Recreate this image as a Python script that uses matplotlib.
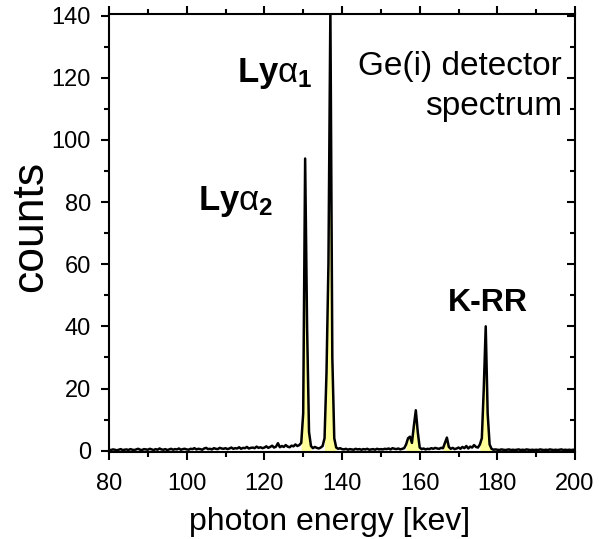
"""
Ge(i) detector spectrum: counts vs photon energy, peaks shaded yellow.
"""
import matplotlib
matplotlib.use("Agg")
import matplotlib.pyplot as plt
import numpy as np
from matplotlib.ticker import MultipleLocator

# --- Data (0.5 keV bins) ---
E_START, E_STEP = 80.0, 0.5
counts = [
    # 80-90
    0.3, 0.2, 0.4, 0.3, 0.1, 0.3, 0.5, 0.2, 0.3, 0.4, 0.2, 0.5, 0.3, 0.2, 0.4, 0.6, 0.3, 0.2, 0.5, 0.4,
    # 90-100
    0.3, 0.6, 0.4, 0.2, 0.5, 0.3, 0.7, 0.4, 0.3, 0.5, 0.2, 0.4, 0.6, 0.3, 0.5, 0.4, 0.7, 0.3, 0.5, 0.6,
    # 100-110
    0.4, 0.3, 0.6, 0.5, 0.8, 0.4, 0.6, 0.5, 0.3, 0.7, 0.9, 0.5, 0.6, 0.4, 0.8, 0.6, 0.5, 0.9, 0.7, 0.6,
    # 110-120
    0.8, 0.5, 0.7, 1.0, 0.6, 0.8, 0.7, 1.1, 0.6, 0.9, 0.8, 1.2, 0.7, 0.9, 1.0, 0.8, 1.3, 0.9, 1.1, 0.8,
    # 120-130
    1.0, 1.4, 0.9, 1.2, 1.6, 1.0, 1.3, 2.4, 1.1, 1.5, 1.2, 1.8, 1.3, 1.1, 1.6, 1.4, 2.0, 1.5, 1.8, 2.5,
    # 130-140  (Ly-alpha2, Ly-alpha1)
    12.0, 94.0, 40.0, 6.0, 1.5, 0.8, 1.2, 0.9, 0.7, 1.0, 1.5, 4.0, 25.0, 60.0, 142.0, 30.0, 4.0, 1.0, 0.6, 0.8,
    # 140-150
    0.5, 0.4, 0.6, 0.3, 0.5, 0.4, 0.3, 0.6, 0.4, 0.5, 0.3, 0.5, 0.4, 0.6, 0.3, 0.4, 0.5, 0.3, 0.6, 0.4,
    # 150-160
    0.5, 0.4, 0.6, 0.5, 0.7, 0.4, 0.8, 0.6, 0.5, 0.7, 0.4, 0.6, 0.8, 2.0, 4.0, 4.5, 2.5, 8.0, 13.0, 6.0,
    # 160-170
    1.0, 0.5, 0.7, 0.4, 0.6, 0.5, 0.8, 0.6, 0.9, 0.7, 0.6, 0.9, 0.8, 2.5, 4.2, 1.2, 0.6, 0.9, 0.5, 0.7,
    # 170-180  (K-RR)
    1.0, 0.6, 1.2, 0.8, 1.5, 0.7, 1.3, 1.0, 1.8, 1.2, 1.0, 2.0, 4.0, 20.0, 40.0, 12.0, 2.0, 0.6, 0.3, 0.4,
    # 180-190
    0.3, 0.2, 0.4, 0.3, 0.2, 0.3, 0.4, 0.2, 0.3, 0.2, 0.3, 0.4, 0.2, 0.3, 0.2, 0.4, 0.3, 0.2, 0.3, 0.2,
    # 190-200
    0.3, 0.2, 0.4, 0.3, 0.2, 0.3, 0.2, 0.4, 0.3, 0.2, 0.3, 0.2, 0.3, 0.4, 0.2, 0.3, 0.2, 0.3, 0.2, 0.3,
    0.3,
]
energy = E_START + E_STEP * np.arange(len(counts))
counts = np.array(counts)

# energy windows of the shaded peaks
peak_windows = [(129.5, 132.0), (135.5, 138.5), (156.5, 160.0), (166.0, 168.0), (175.5, 178.5)]

C_FILL = "#FFFF99"

plt.rcParams.update({
    "font.family": ["Liberation Sans", "DejaVu Sans"],
    "mathtext.fontset": "custom",
    "mathtext.rm": "Liberation Sans",
    "mathtext.it": "Liberation Sans:italic",
    "mathtext.bf": "Liberation Sans:bold",
})

fig = plt.figure(figsize=(5.99, 5.39), dpi=100)
ax = fig.add_axes([0.182, 0.161, 0.778, 0.813])

for lo, hi in peak_windows:
    m = (energy >= lo) & (energy <= hi)
    ax.fill_between(energy[m], 0, counts[m], color=C_FILL, lw=0, zorder=1)
ax.plot(energy, counts, color="black", lw=1.8, zorder=2)

ax.set_xlim(80, 200)
ax.set_ylim(-0.5, 140.5)
ax.xaxis.set_major_locator(MultipleLocator(20))
ax.xaxis.set_minor_locator(MultipleLocator(10))
ax.yaxis.set_major_locator(MultipleLocator(20))
ax.yaxis.set_minor_locator(MultipleLocator(10))

for s in ax.spines.values():
    s.set_linewidth(1.5)
ax.tick_params(which="both", direction="out", width=1.5, labelsize=17)
ax.tick_params(which="major", length=6)
ax.tick_params(which="minor", length=3.5)
ax.tick_params(axis="x", which="major", pad=9)
ax.tick_params(axis="y", which="major", pad=7)
ax.tick_params(axis="x", which="both", top=True)
ax.tick_params(axis="y", which="both", right=True)
# top/right ticks point inward
for t in ax.xaxis.get_ticklines(minor=False)[1::2] + ax.xaxis.get_ticklines(minor=True)[1::2]:
    t.set_marker(2)
for t in ax.yaxis.get_ticklines(minor=False)[1::2] + ax.yaxis.get_ticklines(minor=True)[1::2]:
    t.set_marker(0)

ax.set_xlabel("photon energy [kev]", fontsize=23, va="top")
ax.xaxis.set_label_coords(0.474, -0.125)
ax.set_ylabel("counts", fontsize=32)
ax.yaxis.set_label_coords(-0.125, 0.516)

ax.text(113.0, 118.5, r"$\mathbf{Ly}\mathrm{\alpha}_\mathbf{1}$", fontsize=25, va="baseline")
ax.text(102.9, 77.5, r"$\mathbf{Ly}\mathrm{\alpha}_\mathbf{2}$", fontsize=25, va="baseline")
ax.text(167.3, 44.9, "K-RR", fontsize=23, fontweight="bold", va="baseline")
ax.text(196.7, 120.8, "Ge(i) detector", fontsize=24, ha="right", va="baseline")
ax.text(196.7, 108.0, "spectrum", fontsize=24, ha="right", va="baseline")

fig.savefig("out.png", dpi=100)
